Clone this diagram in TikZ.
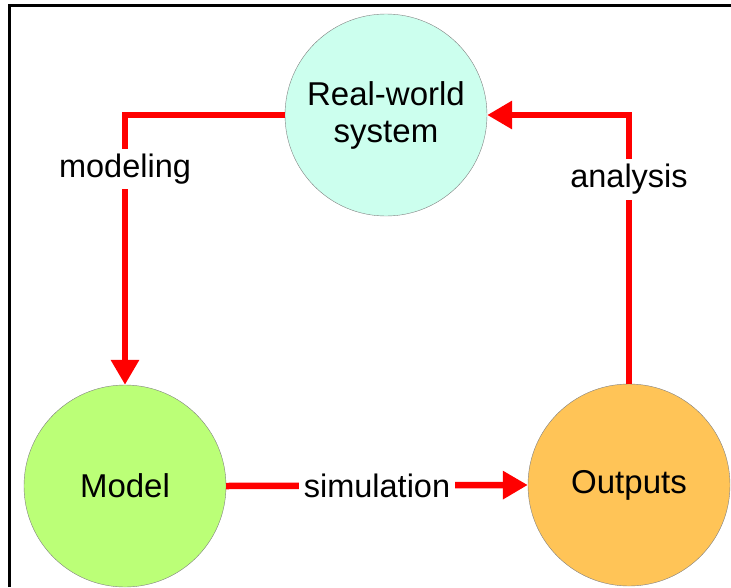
\documentclass[tikz,border=0pt]{standalone}
\usepackage{fontspec}
\setmainfont{Liberation Sans}
\usetikzlibrary{positioning,arrows.meta}
\definecolor{realfill}{RGB}{204,255,238}
\definecolor{modelfill}{RGB}{187,255,119}
\definecolor{outfill}{RGB}{255,196,87}

\begin{document}
\begin{tikzpicture}[x=1pt,y=-1pt,
   stage/.style={circle,draw=gray,thin,minimum size=202pt,inner sep=0pt,align=center,
     font=\fontsize{33}{39}\selectfont,fill=#1},
   stage/.default=white,
   flow/.style={draw=red,line width=6.5pt,-{Triangle[length=25pt,width=27pt]}},
   flowlbl/.style={fill=white,inner sep=5pt,font=\fontsize{32.5}{39}\selectfont}]
 \useasboundingbox (0,0) rectangle (731,587);

 %cornice
 \draw[line width=3pt] (9,587) -- (9,5) -- (731,5);

 %cerchi
 \node[stage=realfill]  (real)  at (386,115) {\raisebox{-2pt}{Real-world}\\system};
 \node[stage=modelfill] (model) at (125,486) {Model};
 \node[stage=outfill]   (out)   at (629,485) {\raisebox{-3pt}{Outputs}};

 %frecce
 \draw[flow] (real.west) -| node[flowlbl, pos=0.60] (lmod) {modeling} (model.north);
 \draw[flow] (model.east) -- node[flowlbl] (lsim) {simulation} (out.west);
 \draw[flow] (out.north) |- node[flowlbl, pos=0.38] (lana) {analysis} (real.east);

\end{tikzpicture}
\end{document}
